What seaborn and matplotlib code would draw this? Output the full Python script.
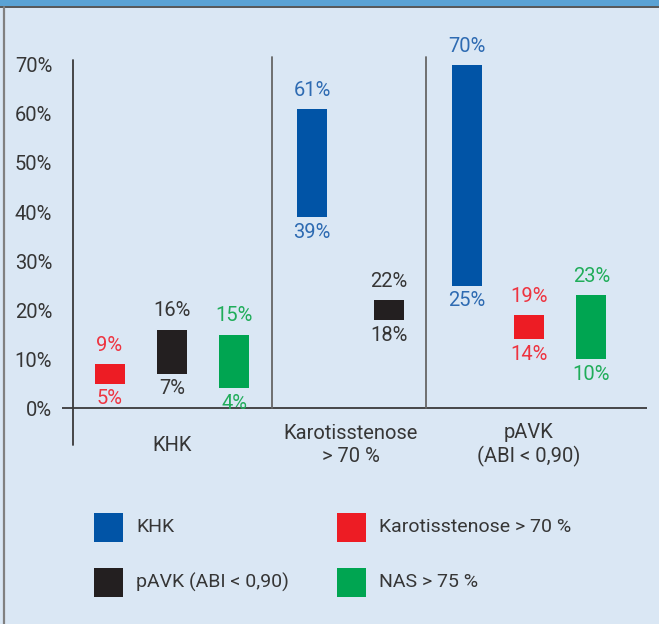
import numpy as np
import pandas as pd
import seaborn as sns
import matplotlib.pyplot as plt
from matplotlib.patches import Rectangle
from matplotlib.lines import Line2D

# ---- data ----
groups = ["KHK", "Karotisstenose\n> 70 %", "pAVK\n(ABI < 0,90)"]
series = ["KHK", "Karotisstenose > 70 %", "pAVK (ABI < 0,90)", "NAS > 75 %"]
bar_group = [0, 0, 0, 1, 1, 2, 2, 2]
bar_series = ["Karotisstenose > 70 %", "pAVK (ABI < 0,90)", "NAS > 75 %",
              "KHK", "pAVK (ABI < 0,90)",
              "KHK", "Karotisstenose > 70 %", "NAS > 75 %"]
low = [5, 7, 4, 39, 18, 25, 14, 10]
high = [9, 16, 15, 61, 22, 70, 19, 23]
yticks = [0, 10, 20, 30, 40, 50, 60, 70]

bar_colors = {"KHK": "#0154A6", "Karotisstenose > 70 %": "#ED1C24",
              "pAVK (ABI < 0,90)": "#231F20", "NAS > 75 %": "#00A551"}
text_colors = {"KHK": "#2E6BB2", "Karotisstenose > 70 %": "#EE3440",
               "pAVK (ABI < 0,90)": "#363636", "NAS > 75 %": "#20AD5A"}

df = pd.DataFrame({"group": bar_group, "series": bar_series, "low": low, "high": high})

# slot layout inside each group
def slot_offsets(n):
    step = 0.43 if n == 2 else 0.35
    return [(i - (n - 1) / 2) * step for i in range(n)]

df["pos"] = 0.0
for g, sub in df.groupby("group"):
    df.loc[sub.index, "pos"] = g + np.array(slot_offsets(len(sub)))

# ---- style ----
bg = "#DAE7F4"
ink = "#363636"
sns.set_theme(style="white")
plt.rcParams["font.family"] = ["Roboto", "DejaVu Sans"]

W, H = 659, 624
fig = plt.figure(figsize=(W / 100, H / 100), dpi=100)
fig.patch.set_facecolor(bg)

# axes box in pixels: x 62..647, y 40..480
ax = fig.add_axes([62 / W, 1 - 480 / H, 585 / W, 440 / H])
ax.set_facecolor("none")

num_fs = 14.5
txt_fs = 14.5
bar_w = 0.168
for _, r in df.iterrows():
    sns.barplot(x=[r["pos"]], y=[r["high"] - r["low"]], bottom=r["low"],
                native_scale=True, orient="x", width=bar_w, errorbar=None,
                color=bar_colors[r["series"]], saturation=1, linewidth=0, ax=ax)
    tc = text_colors[r["series"]]
    ax.annotate(f"{r['high']}%", (r["pos"], r["high"]), xytext=(0, 13.5),
                textcoords="offset points", ha="center", va="center",
                fontsize=num_fs, color=tc)
    ax.annotate(f"{r['low']}%", (r["pos"], r["low"]), xytext=(0, -11),
                textcoords="offset points", ha="center", va="center",
                fontsize=num_fs, color=tc)

ax.set_xlim(-0.6162, 2.661)
ax.set_ylim(-14.69, 75.1)
sns.despine(ax=ax, left=True, bottom=True)

ax.set_yticks(yticks)
ax.set_yticklabels([f"{v}%" for v in yticks], fontsize=num_fs, color=ink)
ax.set_xticks([])
ax.tick_params(axis="y", length=0, pad=7)
ax.set_xlabel("")
ax.set_ylabel("")

# axis lines and group separators
ax.axhline(0, color="#3a3a3a", lw=1.3)
ax.plot([-0.5546, -0.5546], [71.0, -7.6], color="#3a3a3a", lw=1.3, clip_on=False)
for sx in [0.560, 1.423]:
    ax.plot([sx, sx], [0, 71.6], color="#666666", lw=1.3)

for i, name in enumerate(groups):
    ax.text(i, -7.55, name, ha="center", va="center", fontsize=txt_fs,
            color=ink, linespacing=1.25)

# legend (two columns, square swatches)
for i, name in enumerate(series):
    col, row = i % 2, i // 2
    x0 = 94 + col * 243
    yc = 527 + row * 55
    fig.add_artist(Rectangle((x0 / W, 1 - (yc + 14.5) / H), 29 / W, 29 / H,
                             transform=fig.transFigure, color=bar_colors[name], lw=0))
    fig.text((x0 + 42) / W, 1 - yc / H, name, ha="left", va="center",
             fontsize=14, color=ink)

# frame: header strip and left border
fig.add_artist(Rectangle((0, 1 - 6 / H), 1, 6 / H, transform=fig.transFigure,
                         color="#5AA2D4", lw=0))
fig.add_artist(Line2D([0, 1], [1 - 6.8 / H, 1 - 6.8 / H], transform=fig.transFigure,
                      color="#4a4a4a", lw=1.3))
fig.add_artist(Line2D([4 / W, 4 / W], [0, 1 - 7 / H], transform=fig.transFigure,
                      color="#808080", lw=1.6))

fig.savefig("out.png", dpi=100, facecolor=fig.get_facecolor())
